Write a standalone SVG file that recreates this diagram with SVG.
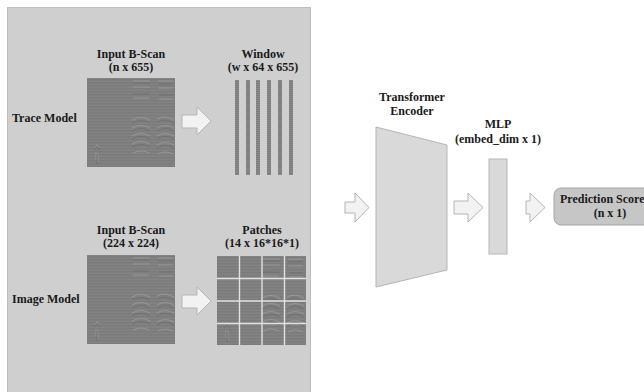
<svg xmlns="http://www.w3.org/2000/svg" width="644" height="392" viewBox="0 0 644 392">
<defs>
<style>
text{font-family:'Liberation Serif','DejaVu Serif',serif;font-weight:bold;font-size:12px;fill:#1a1a1a}
.c{text-anchor:middle}
.arrow{fill:#f2f2f2;stroke:#b5b5b5;stroke-width:1}
.hl{fill:none;stroke:#a0a0a0;stroke-width:0.7}
.dk{fill:none;stroke:#6a6a6a;stroke-width:0.7}
</style>
<pattern id="stripes" width="8" height="3" patternUnits="userSpaceOnUse">
<rect width="8" height="1" fill="#838383"/>
<rect y="1" width="8" height="1" fill="#7b7b7b"/>
<rect y="2" width="8" height="1" fill="#7f7f7f"/>
</pattern>
<pattern id="stripes2" width="4" height="2" patternUnits="userSpaceOnUse">
<rect width="4" height="1" fill="#8a8a8a"/>
<rect y="1" width="4" height="1" fill="#7c7c7c"/>
</pattern>
<clipPath id="sc"><rect width="88" height="89"/></clipPath>
<g id="scan" clip-path="url(#sc)">
<rect width="88" height="89" fill="url(#stripes)"/>
<path class="hl" d="M46,3H63M71,3H86M46,9H63M71,10H86M46,20H62M72,21H86"/>
<path class="dk" d="M46,5H63M71,6H86M46,16H62M72,17H86"/>
<path class="hl" d="M45,42Q54,37 63,42M70,41Q78,37 87,42M45,50Q54,45 63,50M70,50Q78,45 87,50M45,58Q54,53 63,58M70,58Q78,53 87,58M45,66Q54,61 63,66M70,67Q78,62 87,67M46,75Q54,71 62,75M71,76Q78,72 86,76"/>
<path class="dk" d="M45,45Q54,40 63,45M70,44Q78,40 87,45M45,53Q54,48 63,53M70,53Q78,48 87,53M45,61Q54,56 63,61M70,61Q78,56 87,61M45,69Q54,64 63,69M70,70Q78,65 87,70"/>
<path class="hl" d="M8,70Q10,64 12,70M9,74V82M11,75V84"/>
<path class="dk" d="M7,72Q10,66 13,72M10,76V86"/>
</g>
</defs>
<rect width="644" height="392" fill="#ffffff"/>
<g id="panel">
<rect x="7.5" y="7.5" width="303" height="390" fill="#cfcfcf" stroke="#bdbdbd"/>
</g>
<g id="trace-model">
<text x="12" y="122">Trace Model</text>
</g>
<g id="image-model">
<text x="12" y="303">Image Model</text>
</g>
<g id="input-bscan-trace">
<text class="c" x="131" y="58">Input B-Scan</text>
<text class="c" x="131" y="71">(n x 655)</text>
<use href="#scan" x="87" y="78"/>
</g>
<g id="window">
<text class="c" x="263" y="58">Window</text>
<text class="c" x="263" y="71">(w x 64 x 655)</text>
<g fill="url(#stripes2)">
<rect x="235" y="80" width="4" height="95"/>
<rect x="246" y="80" width="4" height="95"/>
<rect x="256" y="80" width="4" height="95"/>
<rect x="267" y="80" width="4" height="95"/>
<rect x="278" y="80" width="4" height="95"/>
<rect x="289" y="80" width="4" height="95"/>
</g>
</g>
<g id="input-bscan-image">
<text class="c" x="131" y="234">Input B-Scan</text>
<text class="c" x="131" y="247">(224 x 224)</text>
<use href="#scan" x="87" y="255"/>
</g>
<g id="patches">
<text class="c" x="262" y="234">Patches</text>
<text class="c" x="262" y="247">(14 x 16*16*1)</text>
<use href="#scan" x="217" y="256"/>
<rect x="305" y="256" width="1" height="89" fill="#7f7f7f"/>
<g stroke="#e2e2e2" stroke-width="1.4">
<path d="M239.5,256V345M262,256V345M284.5,256V345M217,278.5H306M217,301H306M217,323.5H306"/>
</g>
</g>
<g id="transformer-encoder">
<text class="c" x="412" y="101">Transformer</text>
<text class="c" x="412" y="115">Encoder</text>
<polygon points="376,127 447,145 447,270 376,287" fill="#d9d9d9" stroke="#b5b5b5"/>
</g>
<g id="mlp">
<text class="c" x="498" y="128">MLP</text>
<text class="c" x="498" y="143">(embed_dim x 1)</text>
<rect x="489" y="159" width="18" height="95" fill="#d9d9d9" stroke="#b5b5b5"/>
</g>
<g id="prediction-score">
<rect x="554" y="188" width="110" height="37" rx="7" fill="#c6c6c6" stroke="#a5a5a5"/>
<text x="560" y="203">Prediction Score</text>
<text class="c" x="610" y="217">(n x 1)</text>
</g>
<g id="connectors">
<polygon class="arrow" points="182,115 197,115 197,107 211,121 197,135 197,128 182,128"/>
<polygon class="arrow" points="182,295 197,295 197,287 211,301 197,315 197,308 182,308"/>
<polygon class="arrow" points="345,202 355,202 355,193 369,207.5 355,222 355,213 345,213"/>
<polygon class="arrow" points="454,201 468,201 468,193 483,207.5 468,222 468,214 454,214"/>
<polygon class="arrow" points="526,201 530,201 530,193 545,207.5 530,222 530,214 526,214"/>
</g>
</svg>
